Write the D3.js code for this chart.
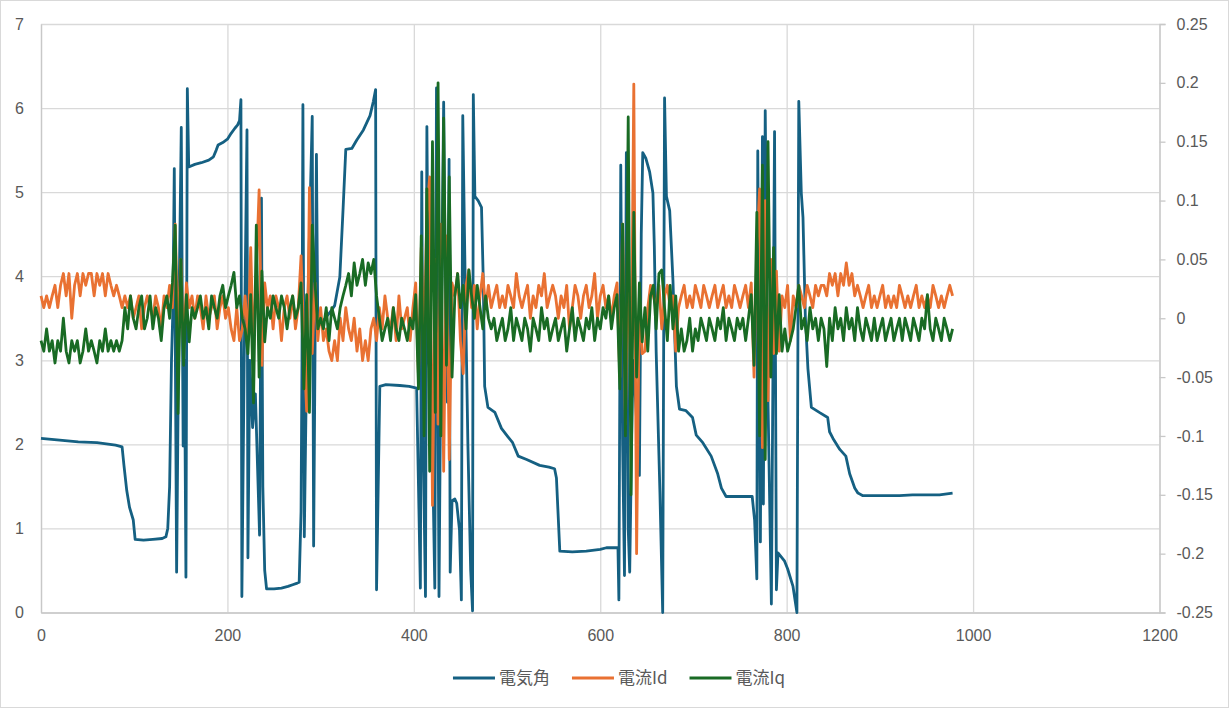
<!DOCTYPE html>
<html>
<head>
<meta charset="utf-8">
<script src="https://cdn.jsdelivr.net/npm/d3@7"></script>
<style>
  body { margin: 0; background: #fff; }
  .tick text { fill: #595959; font-family: "Liberation Sans", Arial, sans-serif; font-size: 16px; }
</style>
</head>
<body>
<div id="vis1"></div>
<script>
// chart data

const SERIES_NAMES = ["電気角", "電流Id", "電流Iq"];
const X_TICKS = [0, 200, 400, 600, 800, 1000, 1200];
const LEFT_TICKS = [0, 1, 2, 3, 4, 5, 6, 7];
const RIGHT_TICKS = [-0.25, -0.2, -0.15, -0.1, -0.05, 0, 0.05, 0.1, 0.15, 0.2, 0.25];

// 電気角 [x, angle] (left axis)
const angle = [
  [0,2.07],[20,2.05],[40,2.03],[60,2.02],[80,1.99],[87,1.97],[89,1.75],[92,1.45],[95,1.25],[99,1.1],[101,0.87],
  [110,0.86],[120,0.87],[130,0.88],[134,0.9],[136,1.0],[138,1.5],[140,3.0],[141.5,3.6],
  [143,5.28],[145.5,0.48],[148,3.6],[150.5,5.77],[152.5,1.98],[154,3.0],[155.5,0.42],[157,6.23],[158.5,5.3],
  [165,5.33],[172,5.35],[180,5.38],[185,5.42],[188,5.5],[190,5.56],[195,5.59],[200,5.63],[204,5.7],[208,5.76],
  [211,5.8],[213,5.85],[214.5,6.1],
  [215.5,0.19],[218,3.0],[221,5.74],[222,0.65],[224,3.0],[227,2.2],[230,2.6],[234.5,0.92],[236.5,4.93],
  [238,1.5],[240,0.5],[242,0.28],
  [250,0.28],[258,0.29],[265,0.31],[270,0.33],[275,0.35],[277,0.36],[279,1.2],[280,3.0],
  [281,6.04],[282.5,0.9],[285,3.0],[288,4.5],[291,5.9],[292.5,0.79],[295.5,5.45],[297,3.4],
  [305,3.5],[312,3.6],[315,3.65],[320.6,3.99],[324,4.78],[327,5.51],[333.5,5.52],[338.8,5.62],[345.9,5.74],
  [353,5.91],[356.6,6.08],[359,6.22],
  [360,0.27],[363.5,2.69],[370,2.71],[385,2.7],[395,2.69],[403,2.67],
  [405,1.5],[407,0.29],[408.5,5.24],[410,2.0],[412.5,0.19],[414,5.78],[416,3.0],[419,2.6],[422.5,0.29],
  [424.3,6.24],[427,0.19],[429,3.0],[432,6.07],[434,3.5],[436,2.5],[437.8,5.39],[439,0.48],[441,1.33],
  [444,1.35],[446,1.3],[449,0.98],[451,0.15],[452.5,5.91],[455,4.0],[458,2.0],[461,0.5],[463,0.02],
  [463.8,6.16],[465.5,4.95],[469,4.9],[472.6,4.82],[474.5,3.95],[476,2.69],[479.5,2.44],[487,2.38],
  [494,2.19],[501,2.09],[506,2.02],[512,1.86],[521,1.82],[535,1.75],
  [545,1.73],[551,1.71],[553,1.6],[556.6,0.73],[570,0.72],[585,0.73],[600,0.75],[606.6,0.77],[619,0.77],
  [620,0.15],[622,5.32],[624,2.0],[626,0.44],[628,5.47],[630,1.0],[631.6,0.48],[635,3.0],[638,2.5],
  [642,1.63],[644,4.5],[645.6,5.47],[649,5.4],[653,5.24],[656.5,4.99],[658,4.36],[660,3.1],[664,1.44],
  [667,0],[669,6.12],[671,4.95],[674.5,4.78],[678,3.95],[681.7,2.69],[685,2.42],[692,2.4],[699,2.32],
  [703,2.11],[710,2.02],[719,1.86],[726,1.65],[730,1.48],[735,1.38],[763,1.38],
  [765.6,1.1],[768,0.4],[769,5.49],[771.8,0.84],[774,5.66],[775,1.29],[777,5.97],[780,2.5],[783.6,0.1],
  [787,5.72],[789,0.27],[790.7,0.71],[797.8,0.61],[801,0.52],[806.8,0.31],[811,0],[813,6.08],
  [815.7,4.99],[817.5,4.7],[820,3.53],[822.8,2.9],[826.5,2.44],[835,2.38],[844,2.32],[846,2.15],
  [849.7,2.07],[857,1.94],[863.5,1.86],[867.6,1.65],[873,1.48],[876.5,1.42],[881.8,1.39],[921,1.39],
  [935,1.4],[964,1.4],[978,1.42]
];

// sample spacing of the current series (x units)
const SAMPLE_STEP = 3;

// 電流Id (right axis), one value per sample from x = 0
const currentId = [
  0.019,0.009,0.019,0.009,0.019,0.028,0.009,
  0.028,0.038,0.019,0.038,0,0.028,0.038,0.019,0.038,0.028,0.038,0.038,0.019,0.038,0.028,0.038,0.019,0.038,0.028,0.019,0.028,0.019,0.009,
  0.019,0.009,0.019,0,0.009,0.019,-0.009,0.009,0.019,0.009,0,0.019,0.009,-0.009,0.019,0.009,0.028,
  0.009,0.08,-0.019,0.05,-0.028,0.03,0.009,0.019,0,
  0.019,0.009,-0.009,0.019,0,0.009,0.019,-0.009,0.009,0.019,0,0.009,-0.009,
  -0.019,0.009,-0.019,-0.009,0.019,-0.019,0.06,-0.03,0.04,0.109,-0.04,0.03,
  0.009,0.019,-0.009,0.019,0.009,-0.019,0.009,0.019,0,0.019,-0.009,0.009,
  0.053,-0.019,-0.079,0.111,-0.03,0.03,-0.019,
  0.009,-0.019,-0.009,-0.028,-0.036,-0.019,-0.036,0,-0.019,0.009,-0.009,-0.019,0,-0.028,-0.009,-0.036,-0.019,-0.036,-0.009,0,-0.019,
  0.009,-0.009,0.019,0,-0.009,0.009,-0.019,0.019,-0.009,0,0.009,-0.019,0.009,
  0.03,-0.05,0.06,-0.03,0.09,0.12,-0.159,0.05,-0.09,0.08,-0.13,0.07,-0.12,0.03,
  0.019,0.038,-0.019,-0.047,0.028,0.041,0.009,0.028,-0.009,0.019,0.038,0.009,0.028,
  0.009,0.019,0.028,0.009,0.019,0.009,0.028,0.019,0.009,0.038,
  0.019,0.009,0.019,0.028,0,0.019,0.009,0.028,0.019,0.038,
  0.009,0.019,0.028,0.019,0,0.019,0.009,0.028,-0.009,0.009,
  0.028,0.019,0,0.019,0.028,0.009,0.019,0.038,0,0.019,
  0.028,0.009,0.019,0,0.019,
  0.03,-0.05,0.08,-0.09,0.06,-0.07,0.199,-0.2,0.02,-0.03,
  -0.028,0.009,0.028,0.019,0.009,0.028,-0.009,0.019,0.028,0.009,0.019,-0.028,0.009,
  0.019,0.028,0.009,0.019,0.009,0.028,0.019,0.009,0.028,0.019,0.009,0.019,0.028,0.009,0.019,0.028,0.009,0.019,0.009,0.028,0.019,0.009,0.019,0.028,0.009,
  0.03,-0.05,0.06,0.11,-0.11,0.1,-0.07,0.05,-0.03,0.04,-0.028,0.019,
  0.009,0.028,-0.019,0.019,0.009,0.028,0.019,0.009,0.028,0.019,0.009,0.028,0.019,0.028,
  0.028,0.019,0.038,0.028,0.038,0.019,0.038,0.028,0.047,0.028,0.038,0.019,0.028,
  0.019,0.009,0.019,0.028,0.009,0.019,0.009,0.019,0.028,0.009,
  0.019,0.009,0.019,0.009,0.028,0.019,0.009,0.019,0.009,0.019,
  0.028,0.009,0.019,0.009,0.019,0.009,0.028,0.019,0.009,0.019,
  0.009,0.019,0.028,0.019
];

// 電流Iq (right axis), one value per sample from x = 0
const currentIq = [
  -0.019,-0.028,-0.009,-0.028,-0.019,-0.038,-0.019,-0.028,0,-0.028,
  -0.038,-0.019,-0.028,-0.019,-0.038,-0.028,-0.009,-0.028,-0.019,-0.028,
  -0.038,-0.019,-0.028,-0.009,-0.028,-0.019,-0.028,-0.019,-0.028,-0.019,
  0.009,-0.009,0.019,0,-0.009,0.009,0.019,-0.009,0,0.019,-0.009,0.009,0,-0.019,0.009,0.019,0,
  0.03,0.079,-0.081,0.05,-0.04,0.02,-0.02,0.009,0,
  0.009,0.019,0,0.009,-0.009,0.019,0.009,0,0.019,0.028,0.009,0.019,0.028,
  0.039,0.009,0.019,0,-0.009,-0.03,0.02,-0.072,0.079,-0.05,0.04,-0.02,
  0.009,0,0.019,0.009,0,0.019,0.009,-0.009,0.009,0.019,0,0.009,
  0.03,-0.06,0.02,-0.08,0.079,0.03,-0.009,
  0,-0.009,0.009,-0.019,0.009,0,-0.009,0.009,
  0.019,0.028,0.038,0.019,0.047,0.028,0.038,0.05,0.028,0.047,0.038,0.05,0.019,
  0,-0.019,-0.009,0,-0.019,0.009,-0.009,-0.019,0,-0.009,-0.019,0,-0.009,
  0.02,-0.06,0.07,-0.1,0.11,-0.13,0.15,-0.08,0.2,-0.1,0.17,-0.04,0.12,-0.05,
  0.019,0.038,0.009,0.028,-0.009,0.041,0.019,0,0.028,0.009,-0.009,0.019,0,
  -0.009,0,-0.019,-0.009,0,-0.019,-0.009,0.009,-0.019,0,
  -0.009,-0.019,0,-0.009,-0.028,0,-0.009,-0.019,0.009,-0.009,
  0,-0.019,-0.009,0,-0.019,-0.009,0,-0.028,-0.009,0.009,
  -0.019,0,-0.009,-0.019,0,-0.009,0.009,-0.019,0,-0.009,
  0.009,0,0.019,-0.009,0.009,
  0.02,-0.06,0.08,-0.1,0.171,-0.15,0.09,-0.05,0.03,-0.02,
  0.009,-0.028,0.019,0.028,-0.009,0.038,0.041,0.009,-0.019,0.028,-0.009,0.019,-0.028,
  -0.009,-0.028,-0.019,0,-0.028,-0.009,-0.019,0,-0.009,-0.019,0,-0.009,-0.019,0,-0.009,0.009,-0.019,0,-0.009,-0.019,0,-0.009,0,-0.019,0,
  0.02,-0.04,0.09,-0.1,0.13,-0.12,0.15,-0.05,0.06,-0.03,0.02,-0.028,
  -0.009,-0.028,-0.019,-0.009,0.009,0.028,-0.009,0,-0.019,0.009,-0.009,0,-0.019,0,
  -0.009,-0.041,0,-0.019,0.009,-0.009,0,-0.019,0.009,-0.009,0,-0.019,0.009,
  -0.009,-0.019,0,-0.009,-0.019,0,-0.019,-0.009,0,-0.019,
  -0.009,0,-0.019,-0.009,0,-0.019,0,-0.009,-0.019,0,
  -0.009,-0.019,0,-0.009,0.02,-0.009,-0.019,0,-0.009,-0.019,
  0,-0.009,-0.019,-0.009
];

const COLORS = ["#156082", "#E97132", "#196B24"];

const FRAME_WIDTH = 1230;
const FRAME_HEIGHT = 709;
const MARGINS = {left: 41, right: 70.5, top: 24, bottom: 96.5};
const VIS_WIDTH = FRAME_WIDTH - MARGINS.left - MARGINS.right;
const VIS_HEIGHT = FRAME_HEIGHT - MARGINS.top - MARGINS.bottom;

const FRAME = d3.select("#vis1")
  .append("svg")
    .attr("width", FRAME_WIDTH)
    .attr("height", FRAME_HEIGHT);

FRAME.append("rect")
  .attr("x", 0.5).attr("y", 0.5)
  .attr("width", FRAME_WIDTH - 2).attr("height", FRAME_HEIGHT - 2)
  .attr("fill", "#fff")
  .attr("stroke", "#D9D9D9");

// scales
const X_SCALE = d3.scaleLinear().domain([0, 1200]).range([0, VIS_WIDTH]);
const Y_LEFT = d3.scaleLinear().domain([0, 7]).range([VIS_HEIGHT, 0]);
const Y_RIGHT = d3.scaleLinear().domain([-0.25, 0.25]).range([VIS_HEIGHT, 0]);

const plot = FRAME.append("g")
  .attr("transform", `translate(${MARGINS.left},${MARGINS.top})`);

// gridlines
plot.append("g")
  .call(d3.axisLeft(Y_LEFT).tickValues(LEFT_TICKS).tickSize(-VIS_WIDTH).tickFormat(""))
  .call(g => g.select(".domain").remove())
  .call(g => g.selectAll("line").attr("stroke", "#D9D9D9").attr("stroke-width", 1.3));

plot.append("g")
  .attr("transform", `translate(0,${VIS_HEIGHT})`)
  .call(d3.axisBottom(X_SCALE).tickValues(X_TICKS).tickSize(-VIS_HEIGHT).tickFormat(""))
  .call(g => g.select(".domain").remove())
  .call(g => g.selectAll("line").attr("stroke", "#D9D9D9").attr("stroke-width", 1.3));

// axes
plot.append("g")
  .call(d3.axisLeft(Y_LEFT).tickValues(LEFT_TICKS).tickSize(0).tickPadding(17).tickFormat(d => String(d)))
  .call(g => g.select(".domain").attr("stroke", "#C8C8C8").attr("stroke-width", 1.3));

plot.append("g")
  .attr("transform", `translate(0,${VIS_HEIGHT})`)
  .call(d3.axisBottom(X_SCALE).tickValues(X_TICKS).tickSize(0).tickPadding(17).tickFormat(d => String(d)))
  .call(g => g.select(".domain").attr("stroke", "#C8C8C8").attr("stroke-width", 1.3));

plot.append("g")
  .attr("transform", `translate(${VIS_WIDTH},0)`)
  .call(d3.axisRight(Y_RIGHT).tickValues(RIGHT_TICKS).tickSizeOuter(0).tickSize(6).tickPadding(11)
    .tickFormat(d => String(+d.toFixed(2))))
  .call(g => g.select(".domain").attr("stroke", "#C8C8C8").attr("stroke-width", 1.3))
  .call(g => g.selectAll(".tick line").attr("stroke", "#C8C8C8").attr("stroke-width", 1.3));

// lines
const leftLine = d3.line()
  .x(d => X_SCALE(d[0]))
  .y(d => Y_LEFT(d[1]));

const rightLine = d3.line()
  .x((d, i) => X_SCALE(i * SAMPLE_STEP))
  .y(d => Y_RIGHT(d));

plot.append("path")
  .datum(angle)
  .attr("d", leftLine)
  .attr("fill", "none")
  .attr("stroke", COLORS[0])
  .attr("stroke-width", 2.8)
  .attr("stroke-linejoin", "round");

[currentId, currentIq].forEach((series, k) => {
  plot.append("path")
    .datum(series)
    .attr("d", rightLine)
    .attr("fill", "none")
    .attr("stroke", COLORS[k + 1])
    .attr("stroke-width", 2.8)
    .attr("stroke-linejoin", "round");
});

// legend
const legend = FRAME.append("g").attr("transform", "translate(0,678)");
const items = legend.selectAll("g.item")
  .data(SERIES_NAMES)
  .enter()
  .append("g")
    .attr("class", "item");

items.append("line")
  .attr("x1", 0).attr("x2", 42)
  .attr("stroke", (d, i) => COLORS[i])
  .attr("stroke-width", 3);

items.append("text")
  .attr("x", 46)
  .attr("dy", "0.35em")
  .attr("fill", "#595959")
  .style("font-family", "'Noto Sans CJK JP', sans-serif")
  .style("font-size", "17px")
  .text(d => d);

let widths = [];
items.each(function () { widths.push(46 + this.querySelector("text").getComputedTextLength()); });
const GAP = 22;
const total = d3.sum(widths) + GAP * (widths.length - 1);
let cursor = 619 - total / 2;
items.attr("transform", (d, i) => {
  const x = cursor;
  cursor += widths[i] + GAP;
  return `translate(${x},0)`;
});
</script>
</body>
</html>
